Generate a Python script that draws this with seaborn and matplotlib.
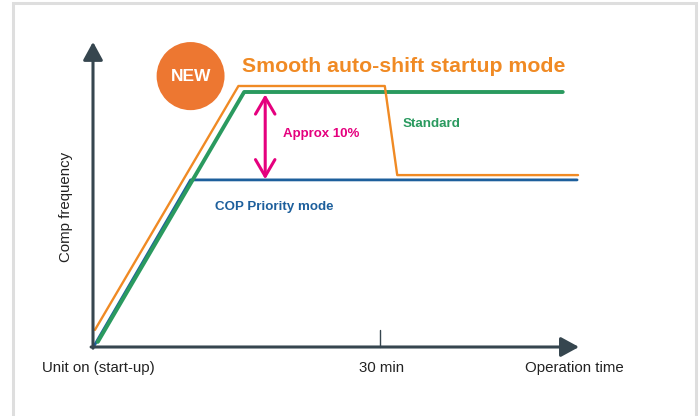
import matplotlib
matplotlib.use("Agg")
import matplotlib.pyplot as plt
import seaborn as sns
import pandas as pd
from matplotlib.patches import Ellipse, Rectangle

# values (time in minutes, frequency in arbitrary units)
smooth_t = [0.2, 15.2, 30.5, 31.8, 50.7]
smooth_f = [5.7, 87.0, 87.0, 57.3, 57.3]
standard_t = [0.5, 15.8, 49.1]
standard_f = [1.7, 85.0, 85.0]
cop_t = [0.1, 10.2, 50.6]
cop_f = [0.3, 55.7, 55.7]

tick_min = 30
x_labels = ["Unit on (start-up)", "30 min", "Operation time"]
x_label_pos = [0.6, 30.2, 50.3]

orange = "#f08a24"
green = "#2a9a5f"
blue = "#1d5f9c"
magenta = "#e5007e"
axis_col = "#36464f"

sns.set_style("white")
plt.rcParams["font.family"] = ["Liberation Sans", "DejaVu Sans"]

fig = plt.figure(figsize=(7, 4.16), dpi=100)
ax = fig.add_axes([0, 0, 1, 1])

# frame
fig.patches.append(Rectangle((13 / 700, -0.05), 683 / 700, 1.0 + 0.05 - 3 / 416,
                             transform=fig.transFigure, fill=False,
                             edgecolor="#dedede", lw=2.2))

# axes with arrow heads
arrow_kw = dict(arrowstyle="-|>,head_length=0.55,head_width=0.3", color=axis_col,
                lw=2.2, mutation_scale=20, shrinkA=0, shrinkB=0)
ax.annotate("", xy=(0, 101.7), xytext=(0, -0.4), arrowprops=arrow_kw)
ax.annotate("", xy=(50.8, 0), xytext=(-0.2, 0), arrowprops=arrow_kw)
ax.plot([tick_min, tick_min], [0, 5.7], color=axis_col, lw=1.0)

lines = pd.DataFrame({
    "t": smooth_t + standard_t + cop_t,
    "f": smooth_f + standard_f + cop_f,
    "mode": ["smooth"] * len(smooth_t) + ["standard"] * len(standard_t) + ["cop"] * len(cop_t),
})
for mode, col, lw in [("cop", blue, 2.0), ("standard", green, 2.8), ("smooth", orange, 1.7)]:
    d = lines[lines["mode"] == mode]
    sns.lineplot(data=d, x="t", y="f", sort=False, estimator=None, color=col, lw=lw, ax=ax)

# pixel-linear scale: x_px = 93 + 9.567*t, y_px = 347 - 3*f
ax.set_xlim(-93 / 9.567, (700 - 93) / 9.567)
ax.set_ylim(-(416 - 347) / 3, 347 / 3)
ax.axis("off")

# approx 10% double arrow
ax.annotate("", xy=(18.0, 84.2), xytext=(18.0, 55.9),
            arrowprops=dict(arrowstyle="<->,head_length=0.6,head_width=0.35", color=magenta,
                            lw=2.2, mutation_scale=20, shrinkA=0, shrinkB=0))
ax.text(19.9, 71.0, "Approx 10%", color=magenta, fontsize=9.5, fontweight="bold", va="center")
ax.text(32.4, 74.3, "Standard", color=green, fontsize=9.6, fontweight="bold", va="center")
ax.text(12.7, 46.7, "COP Priority mode", color=blue, fontsize=9.6, fontweight="bold", va="center")

# title and NEW badge
ax.add_patch(Ellipse((10.2, 90.3), 7.1, 22.7, color="#ed7731", lw=0))
ax.text(10.2, 90.3, "NEW", color="white", fontsize=12.5, fontweight="bold", ha="center", va="center")
ax.text(15.6, 93.4, "Smooth auto-shift startup mode", color=orange, fontsize=15.3,
        fontweight="bold", va="center")

for lab, pos in zip(x_labels, x_label_pos):
    ax.text(pos, -7.0, lab, color="#222222", fontsize=10.8, ha="center", va="center")
ax.text(-2.8, 46.7, "Comp frequency", color="#222222", fontsize=10.8, rotation=90,
        ha="center", va="center")

fig.savefig("out.png", dpi=100)
